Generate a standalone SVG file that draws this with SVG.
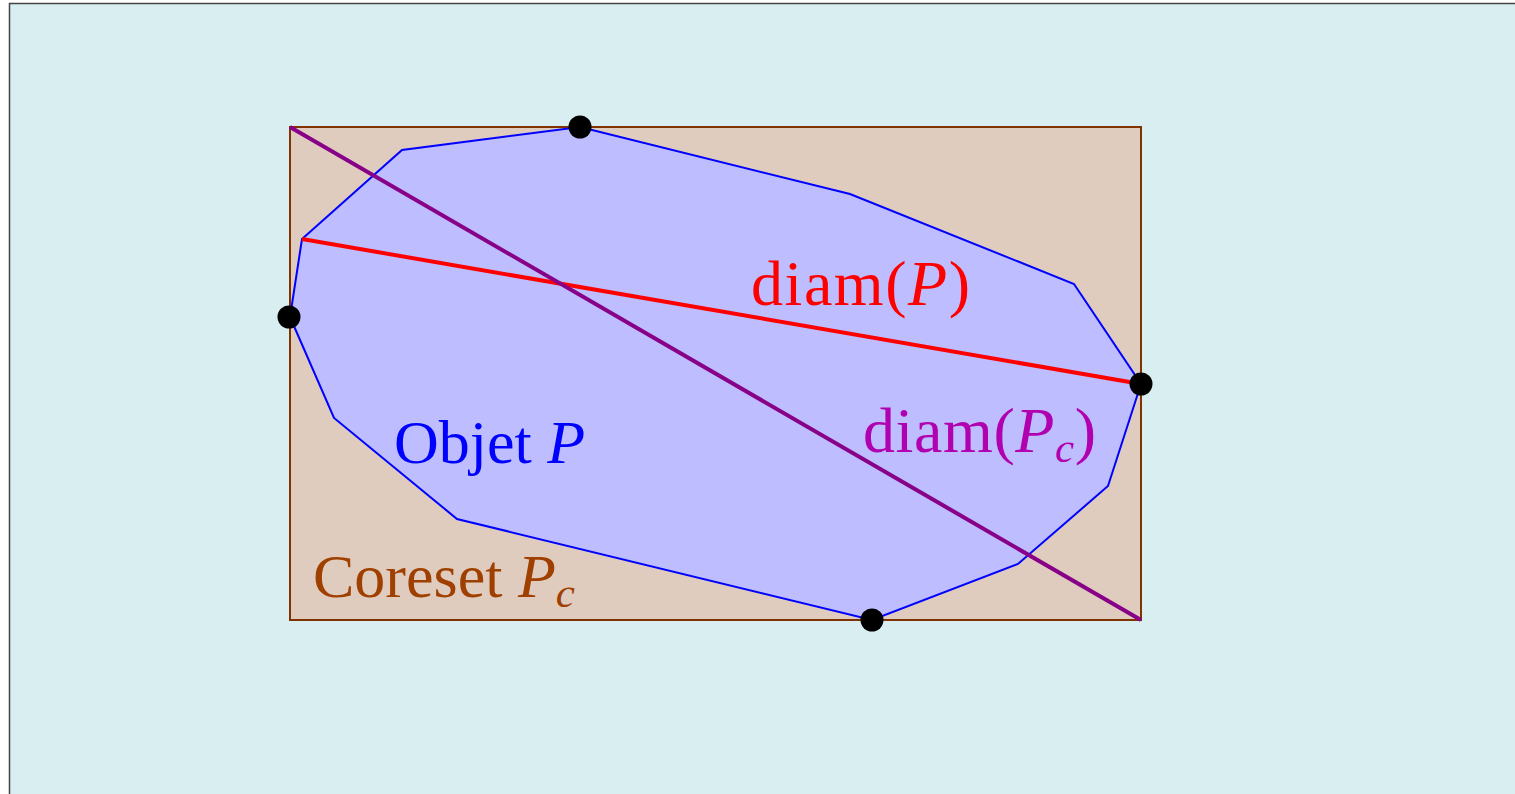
<svg xmlns="http://www.w3.org/2000/svg" width="1515" height="794" viewBox="0 0 1515 794">
  <style>
    .lbl { font-family: "Liberation Serif", "Times New Roman", serif; font-size: 62px; }
    .big { font-size: 64px; }
    .it { font-style: italic; }
    .sub { font-size: 43px; font-style: italic; }
    .dot { fill: #000000; }
  </style>
  <rect width="1515" height="794" fill="#ffffff"/>
  <rect id="frame" x="9.5" y="3.5" width="1530" height="820" fill="#d9eef0" stroke="#444444" stroke-width="1.5"/>
  <g id="coreset">
    <rect x="290" y="127" width="851" height="493" fill="#dfccbf" stroke="#803300" stroke-width="2"/>
  </g>
  <g id="objet">
    <polygon points="580,127 850,194 1074,284 1141,384 1108,486 1018,564 872,620 457,519 334,418 290,317 302,239 402,150" fill="#bdbdff" stroke="#0000ff" stroke-width="2" stroke-linejoin="miter"/>
  </g>
  <g id="connectors">
    <line x1="302" y1="239" x2="1141" y2="384" stroke="#ff0000" stroke-width="4"/>
    <line x1="290" y1="127" x2="1141" y2="620" stroke="#880088" stroke-width="4"/>
  </g>
  <g id="points">
    <circle class="dot" cx="580" cy="127" r="11.5"/>
    <circle class="dot" cx="289" cy="317" r="11.5"/>
    <circle class="dot" cx="1141" cy="384" r="11.5"/>
    <circle class="dot" cx="872" cy="620" r="11.5"/>
  </g>
  <g id="labels">
    <text class="lbl big" x="751" y="305" fill="#ff0000" textLength="219">diam(<tspan class="it">P</tspan>)</text>
    <text class="lbl big" x="863" y="452" fill="#b000b0" textLength="233">diam(<tspan class="it">P</tspan><tspan class="sub" dy="10">c</tspan><tspan dy="-10">)</tspan></text>
    <text class="lbl" x="394" y="463" fill="#0000ff">Objet <tspan class="it">P</tspan></text>
    <text class="lbl" x="313" y="597" fill="#a04000">Coreset <tspan class="it">P</tspan><tspan class="sub" dy="10">c</tspan></text>
  </g>
</svg>
